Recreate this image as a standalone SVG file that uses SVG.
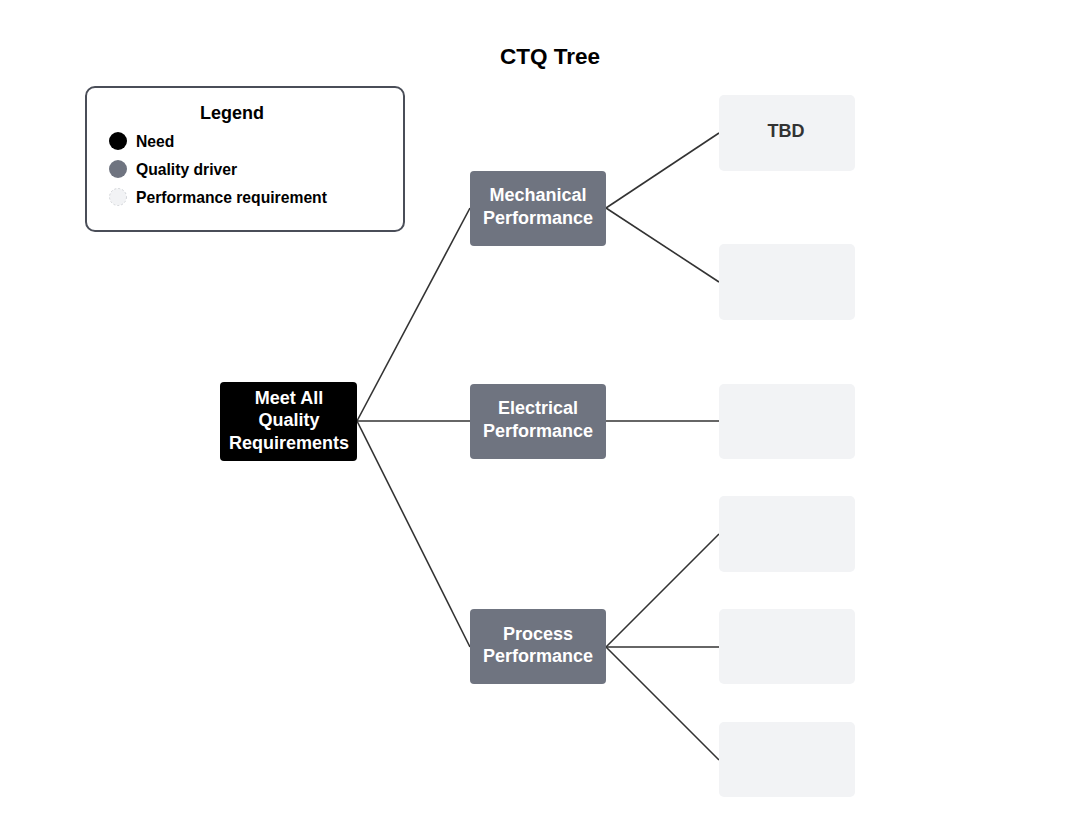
<svg xmlns="http://www.w3.org/2000/svg" width="1081" height="826" viewBox="0 0 1081 826">
<style>
text{font-family:"Liberation Sans",Arial,sans-serif;font-weight:bold}
.need{fill:#000000}
.drv{fill:#6f7480}
.req{fill:#f2f3f5}
.wt{fill:#ffffff;font-size:18px;text-anchor:middle}
.lg{fill:#000000;font-size:15.7px}
.conn line{stroke:#333333;stroke-width:1.6}
</style>
<rect width="1081" height="826" fill="#ffffff"/>
<text x="550" y="64" text-anchor="middle" font-size="22.5" fill="#000">CTQ Tree</text>
<g id="legend">
<rect x="86" y="87" width="318" height="144" rx="9" fill="#ffffff" stroke="#4a4e58" stroke-width="2"/>
<text x="232" y="119" text-anchor="middle" font-size="18" fill="#000">Legend</text>
<circle cx="118" cy="141" r="9" class="need"/>
<circle cx="118" cy="169" r="9" class="drv"/>
<circle cx="118" cy="197" r="8.5" class="req" stroke="#c8cacf" stroke-width="0.8" stroke-dasharray="2 2"/>
<text x="136" y="146.5" class="lg">Need</text>
<text x="136" y="174.5" class="lg">Quality driver</text>
<text x="136" y="202.5" class="lg">Performance requirement</text>
</g>
<g id="connectors" class="conn">
<line x1="357" y1="421" x2="470" y2="208"/>
<line x1="357" y1="421" x2="470" y2="421"/>
<line x1="357" y1="421" x2="470" y2="647"/>
<line x1="606" y1="208" x2="719" y2="133"/>
<line x1="606" y1="208" x2="719" y2="282"/>
<line x1="606" y1="421" x2="719" y2="421"/>
<line x1="606" y1="647" x2="719" y2="534"/>
<line x1="606" y1="647" x2="719" y2="647"/>
<line x1="606" y1="647" x2="719" y2="760"/>
</g>
<g id="root">
<rect x="220" y="382" width="137" height="79" rx="4" class="need"/>
<text class="wt" x="289" y="403.5">Meet All</text>
<text class="wt" x="289" y="426">Quality</text>
<text class="wt" x="289" y="448.5">Requirements</text>
</g>
<g id="mechanical">
<rect x="470" y="171" width="136" height="75" rx="4" class="drv"/>
<text class="wt" x="538" y="201">Mechanical</text>
<text class="wt" x="538" y="223.5">Performance</text>
</g>
<g id="electrical">
<rect x="470" y="384" width="136" height="75" rx="4" class="drv"/>
<text class="wt" x="538" y="414">Electrical</text>
<text class="wt" x="538" y="436.5">Performance</text>
</g>
<g id="process">
<rect x="470" y="609" width="136" height="75" rx="4" class="drv"/>
<text class="wt" x="538" y="640">Process</text>
<text class="wt" x="538" y="661.5">Performance</text>
</g>
<g id="req1">
<rect x="719" y="95" width="136" height="76" rx="5" class="req"/>
<text x="786" y="136.5" text-anchor="middle" font-size="18" fill="#333333">TBD</text>
</g>
<g id="req2"><rect x="719" y="244" width="136" height="76" rx="5" class="req"/></g>
<g id="req3"><rect x="719" y="384" width="136" height="75" rx="5" class="req"/></g>
<g id="req4"><rect x="719" y="496" width="136" height="76" rx="5" class="req"/></g>
<g id="req5"><rect x="719" y="609" width="136" height="75" rx="5" class="req"/></g>
<g id="req6"><rect x="719" y="722" width="136" height="75" rx="5" class="req"/></g>
</svg>
